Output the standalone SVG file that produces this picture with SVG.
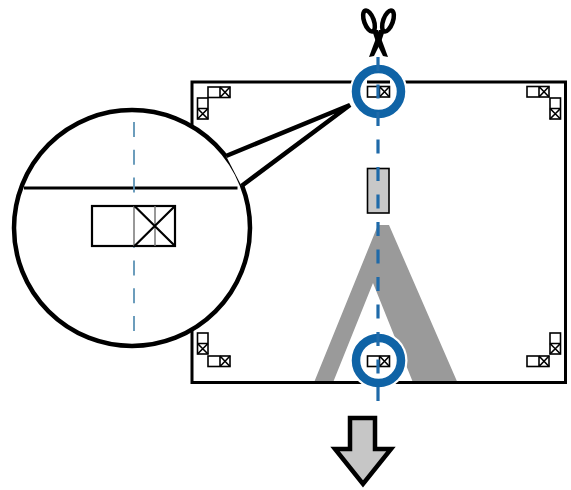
<svg xmlns="http://www.w3.org/2000/svg" width="571" height="490" viewBox="0 0 571 490">
<style>
.k{fill:none;stroke:#000;stroke-width:3}
.m{fill:#fff;stroke:#000;stroke-width:1.6}
.x{fill:none;stroke:#000;stroke-width:1.6}
.ring{fill:#fff;stroke:#0f63a6;stroke-width:8.500}
.halo{fill:#fff}
.dash{fill:none;stroke:#1f6aa9;stroke-width:3.200;stroke-dasharray:14 13.5}
.thin{fill:none;stroke:#5d93b5;stroke-width:1.800;stroke-dasharray:15 12.7}
</style>
<defs>
<g id="h"><rect class="m" width="22" height="10.5"/><path class="x" d="M12 0V10.5M12 0L22 10.5M22 0L12 10.5"/></g>
<g id="v"><rect class="m" width="10.5" height="21"/><path class="x" d="M0 10.5H10.500M0 10.5L10.5 21M10.5 10.5L0 21"/></g>
</defs>
<g id="sheet">
<polygon points="314,382.500 378,225 389,225 457.500,382.500 413,382.500 373,283 333,382.500" fill="#9a9a9a"/>
<rect class="k" x="192" y="82" width="373.500" height="300.500"/>
</g>
<g id="corner-marks">
<use href="#h" x="208" y="87"/><use href="#v" x="197.500" y="98"/>
<use href="#h" x="527" y="86.500"/><use href="#v" x="550" y="98"/>
<use href="#v" x="197.500" y="333"/><use href="#h" x="208" y="356"/>
<use href="#v" x="550" y="333"/><use href="#h" x="527" y="356"/>
</g>
<g id="center-panel"><rect x="367.500" y="168.500" width="21.500" height="44.500" fill="#c8c8c8" stroke="#000" stroke-width="1.600"/></g>
<g id="ring-top">
<circle class="halo" cx="378.500" cy="91.500" r="29"/>
<circle class="ring" cx="378.500" cy="91.500" r="22.500"/>
<path d="M367 82H390" stroke="#000" stroke-width="3"/>
<use href="#h" x="367.500" y="86.500"/>
</g>
<g id="ring-bottom">
<circle class="halo" cx="378.500" cy="360.500" r="29"/>
<circle class="ring" cx="378.500" cy="360.500" r="22.500"/>
<use href="#h" x="367.500" y="356"/>
</g>
<g id="connectors">
<path class="dash" d="M378 57V403"/>
</g>
<g id="magnifier">
<circle cx="132" cy="228" r="118" fill="#fff" stroke="#000" stroke-width="4.500"/>
<polygon points="226,156 350,105 241.500,186" fill="#fff"/>
<path d="M226 156L350 105L241.500 186" fill="none" stroke="#000" stroke-width="4.500"/>
<path d="M24 188H237.500" stroke="#000" stroke-width="2.800"/>
<path class="thin" d="M134 122V335"/>
<rect x="92" y="206" width="83" height="40" fill="#fff" stroke="#000" stroke-width="2.200"/>
<path d="M134 206V246M155 206V246" stroke="#777" stroke-width="1.500"/>
<path d="M134.500 206L175 246M175 206L134.500 246" stroke="#000" stroke-width="2.200"/>
</g>
<g id="scissors">
<ellipse cx="369" cy="21" rx="4.800" ry="11" transform="rotate(-20 369 21)" fill="none" stroke="#000" stroke-width="4.500"/>
<ellipse cx="388" cy="21" rx="4.800" ry="11" transform="rotate(20 388 21)" fill="none" stroke="#000" stroke-width="4.500"/>
<path d="M372 30L378 30L388 57L383 56L376 42Z" fill="#000"/>
<path d="M385 30L379 30L369 57L374 56L381 42Z" fill="#000"/>
</g>
<g id="arrow-down">
<polygon points="350,418 375,418 375,449 391,449 363,484 335,449 350,449" fill="#c6c6c6" stroke="#000" stroke-width="4.500"/>
</g>
</svg>
